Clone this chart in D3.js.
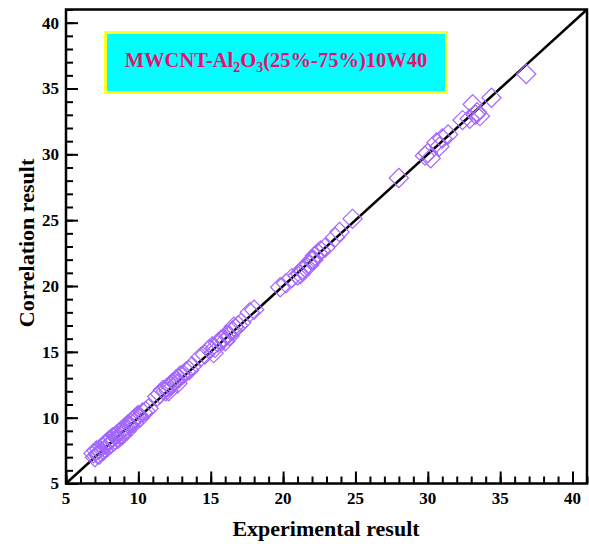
<!DOCTYPE html>
<html>
<head>
<meta charset="utf-8">
<script src="https://cdn.jsdelivr.net/npm/d3@7"></script>
<style>
  body { margin: 0; background: #fff; }
  text { font-family: "Liberation Serif", "Times New Roman", serif; font-weight: bold; }
</style>
</head>
<body>
<script>
// experimental value (x) and correlation value (y) for every point
const experimental = [
  6.9, 7.0, 7.1, 7.2, 7.3, 7.4, 7.5, 7.6, 7.7, 7.8, 7.9, 8.0, 8.1, 8.2, 8.3,
  8.4, 8.5, 8.6, 8.7, 8.8, 8.9, 9.0, 9.1, 9.2, 9.3, 9.4, 9.5, 9.6, 9.7, 9.8,
  9.9, 10.0, 10.1, 10.3, 10.5, 10.7, 7.3, 7.9, 8.4, 8.8, 9.1, 9.7,
  11.3, 11.5, 11.7, 11.9, 12.0, 12.2, 12.3, 12.5, 12.6, 12.8, 12.9, 13.1, 13.3, 13.5, 13.7, 12.1, 12.7,
  14.3, 14.6, 14.9, 15.1, 15.3, 15.5, 15.7, 15.9, 16.1, 16.3, 16.5, 16.7, 16.9, 17.1, 15.2, 16.0, 16.6,
  17.7, 18.0,
  19.8, 20.2, 20.6, 21.0, 21.3, 21.5, 21.8, 22.0, 22.2, 22.4, 22.6, 22.9, 21.2, 22.1, 23.6, 23.9,
  24.8, 28.0,
  29.8, 30.2, 30.0, 30.6, 30.8, 31.0, 31.4,
  32.4, 32.9, 33.1, 33.3, 33.4, 33.6,
  34.4, 36.8
];
const correlation = [
  7.3, 7.0, 7.5, 7.2, 7.6, 7.4, 7.8, 7.5, 8.0, 8.1, 7.8, 8.3, 8.0, 8.5, 8.2,
  8.6, 8.7, 8.4, 8.9, 9.0, 8.7, 9.2, 9.3, 9.0, 9.5, 9.4, 9.6, 9.8, 9.6, 10.0,
  10.1, 10.2, 10.0, 10.4, 10.5, 10.7, 7.2, 8.1, 8.3, 8.6, 9.1, 9.9,
  11.6, 11.8, 12.1, 12.0, 12.3, 12.4, 12.6, 12.7, 12.9, 13.0, 13.2, 13.3, 13.5, 13.6, 13.9, 12.0, 12.6,
  14.6, 14.8, 15.2, 15.4, 15.3, 15.7, 15.9, 16.0, 16.3, 16.2, 16.6, 16.8, 17.0, 17.2, 14.9, 15.8, 16.9,
  18.0, 18.2,
  19.9, 20.2, 20.6, 20.8, 21.2, 21.4, 21.6, 22.0, 22.3, 22.5, 22.7, 22.9, 20.9, 22.0, 23.7, 24.1,
  25.1, 28.2,
  29.9, 29.7, 30.1, 30.9, 30.6, 31.2, 31.5,
  32.6, 32.7, 33.8, 33.0, 33.2, 32.9,
  34.3, 36.1
];
const xTicks = [5, 10, 15, 20, 25, 30, 35, 40];
const yTicks = [5, 10, 15, 20, 25, 30, 35, 40];
const axisMin = 5, axisMax = 41;

const w = 589, h = 544;
const plotLeft = 66, plotRight = 587, plotTop = 9.5, plotBottom = 483.5;

let svg = d3.select("body").append("svg")
  .attr("width", w).attr("height", h);

let xScale = d3.scaleLinear().domain([axisMin, axisMax]).range([plotLeft, plotRight]);
let yScale = d3.scaleLinear().domain([axisMin, axisMax]).range([plotBottom, plotTop]);

// minor ticks every 1, major every 5, pointing inward
let xMinor = d3.axisTop(xScale).ticks(36).tickSize(7).tickFormat("");
let yMinor = d3.axisRight(yScale).ticks(36).tickSize(7).tickFormat("");
let xMajor = d3.axisTop(xScale).tickValues(xTicks).tickSize(12).tickFormat("");
let yMajor = d3.axisRight(yScale).tickValues(yTicks).tickSize(12).tickFormat("");

[xMinor, xMajor].forEach(function(a) {
  svg.append("g").attr("transform", "translate(0," + plotBottom + ")").call(a);
});
[yMinor, yMajor].forEach(function(a) {
  svg.append("g").attr("transform", "translate(" + plotLeft + ",0)").call(a);
});
svg.selectAll(".domain").remove();
svg.selectAll(".tick line").attr("stroke", "#000").attr("stroke-width", 2);

// tick labels
svg.selectAll(".xlab").data(xTicks).enter().append("text")
  .attr("x", function(d) { return xScale(d); })
  .attr("y", plotBottom + 20)
  .attr("text-anchor", "middle")
  .style("font-size", "17px")
  .text(function(d) { return d; });
svg.selectAll(".ylab").data(yTicks).enter().append("text")
  .attr("x", plotLeft - 7)
  .attr("y", function(d) { return yScale(d); })
  .attr("dy", "0.35em")
  .attr("text-anchor", "end")
  .style("font-size", "17px")
  .text(function(d) { return d; });

// diagonal y = x
svg.append("line")
  .attr("x1", xScale(axisMin)).attr("y1", yScale(axisMin))
  .attr("x2", xScale(axisMax)).attr("y2", yScale(axisMax))
  .attr("stroke", "#000").attr("stroke-width", 2.5);

// diamonds
let diamond = d3.symbol().type(d3.symbolSquare).size(185);
svg.selectAll(".pt").data(experimental).enter().append("path")
  .attr("d", diamond)
  .attr("transform", function(d, i) {
    return "translate(" + xScale(d) + "," + yScale(correlation[i]) + ") rotate(45)";
  })
  .attr("fill", "none")
  .attr("stroke", "#a366ff")
  .attr("stroke-width", 1.2);

// frame
svg.append("rect")
  .attr("x", plotLeft).attr("y", plotTop)
  .attr("width", plotRight - plotLeft).attr("height", plotBottom - plotTop)
  .attr("fill", "none").attr("stroke", "#000").attr("stroke-width", 2.5);

// legend box
svg.append("rect")
  .attr("x", 105.5).attr("y", 32.5).attr("width", 341).attr("height", 60)
  .attr("fill", "#00ffff").attr("stroke", "#ffff22").attr("stroke-width", 3);
let title = svg.append("text")
  .attr("x", 276).attr("y", 67)
  .attr("text-anchor", "middle")
  .attr("fill", "#e8106e")
  .style("font-size", "20.5px");
title.append("tspan").text("MWCNT-Al");
title.append("tspan").attr("dy", 5).style("font-size", "14px").text("2");
title.append("tspan").attr("dy", -5).text("O");
title.append("tspan").attr("dy", 5).style("font-size", "14px").text("3");
title.append("tspan").attr("dy", -5).text("(25%-75%)10W40");

// axis titles
svg.append("text")
  .attr("x", 326).attr("y", 536)
  .attr("text-anchor", "middle")
  .style("font-size", "22px")
  .text("Experimental result");
svg.append("text")
  .attr("transform", "translate(34,243) rotate(-90)")
  .attr("text-anchor", "middle")
  .style("font-size", "22px")
  .text("Correlation result");
</script>
</body>
</html>
